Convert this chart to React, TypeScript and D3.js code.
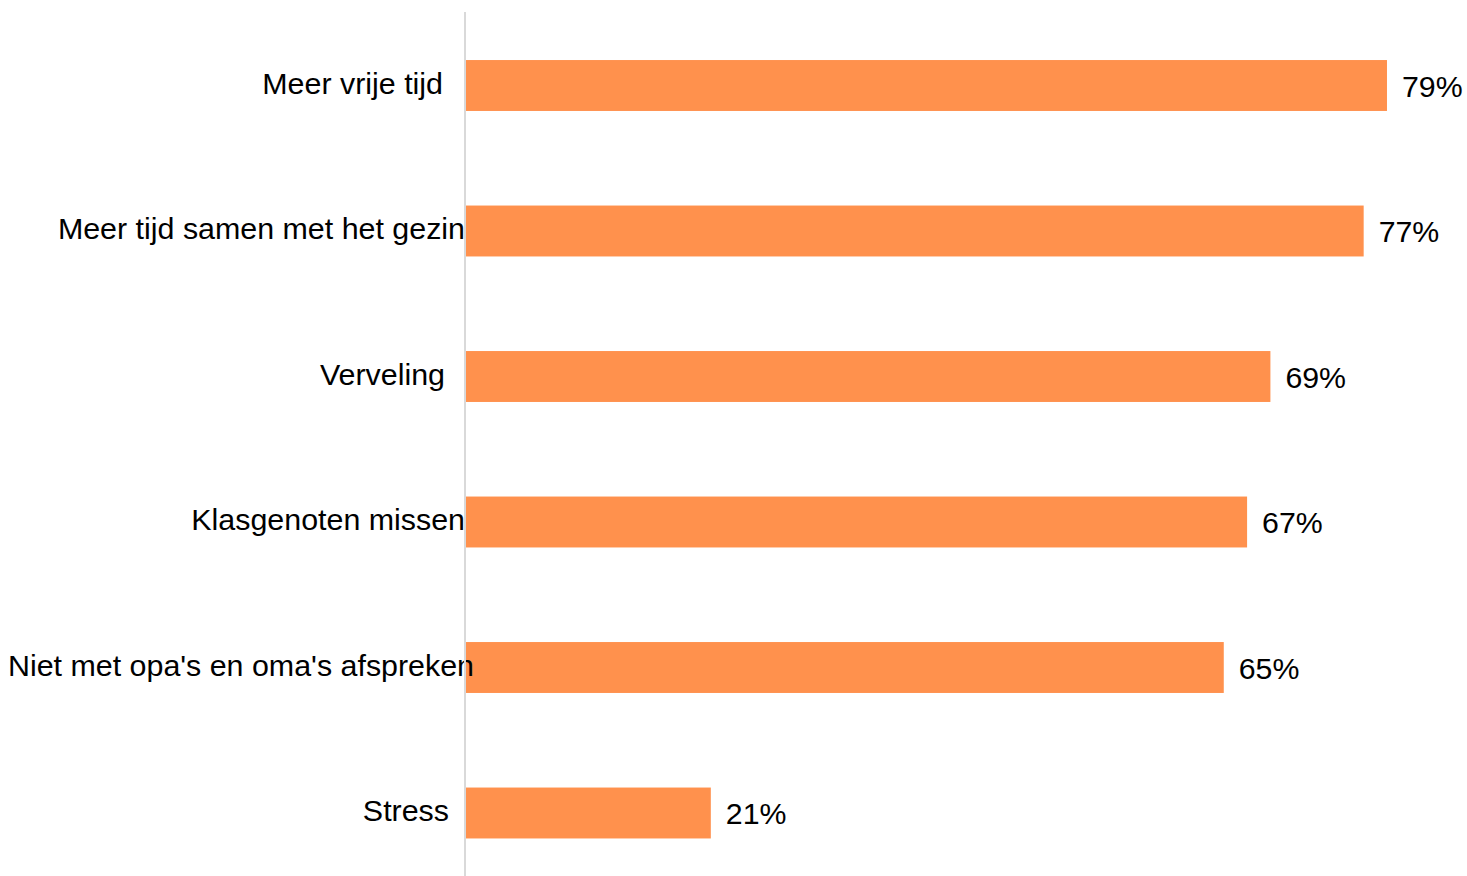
import React from "react";
import * as d3 from "d3";

const categories = [
  "Meer vrije tijd",
  "Meer tijd samen met het gezin",
  "Verveling",
  "Klasgenoten missen",
  "Niet met opa's en oma's afspreken",
  "Stress",
];
const values = [79, 77, 69, 67, 65, 21];
// horizontal offsets of category label right edges relative to the axis (layout detail)
const labelDx = [-22, 0, -20, 0, 9, -16];

const W = 1467;
const H = 876;
const AXIS_X = 465;

export default function App() {
  const x = d3.scaleLinear().domain([0, 100]).range([AXIS_X + 1, AXIS_X + 1 + 1165.8]);
  const y = d3
    .scaleBand<string>()
    .domain(categories)
    .range([12.75, 885.75])
    .paddingInner(0.65)
    .paddingOuter(0.325);
  const bw = y.bandwidth();
  return (
    <svg
      width={W}
      height={H}
      style={{ position: "absolute", left: 0, top: 0, background: "#fff" }}
      fontFamily="'Liberation Sans', Arial, sans-serif"
    >
      {categories.map((c, i) => {
        const y0 = y(c)!;
        const cy = y0 + bw / 2;
        return (
          <g key={c}>
            <rect x={x(0)} y={y0} width={x(values[i]) - x(0)} height={bw} fill="#FF914D" />
            <text
              x={x(values[i]) + 15}
              y={cy + 11}
              fontSize={30.3}
              fill="#000"
            >
              {values[i]}%
            </text>
            <text
              x={AXIS_X + labelDx[i]}
              y={cy + 8}
              fontSize={30.4}
              textAnchor="end"
              fill="#000"
            >
              {c}
            </text>
          </g>
        );
      })}
      <line x1={AXIS_X} x2={AXIS_X} y1={12} y2={H} stroke="#d9d9d9" strokeWidth={2} />
    </svg>
  );
}
